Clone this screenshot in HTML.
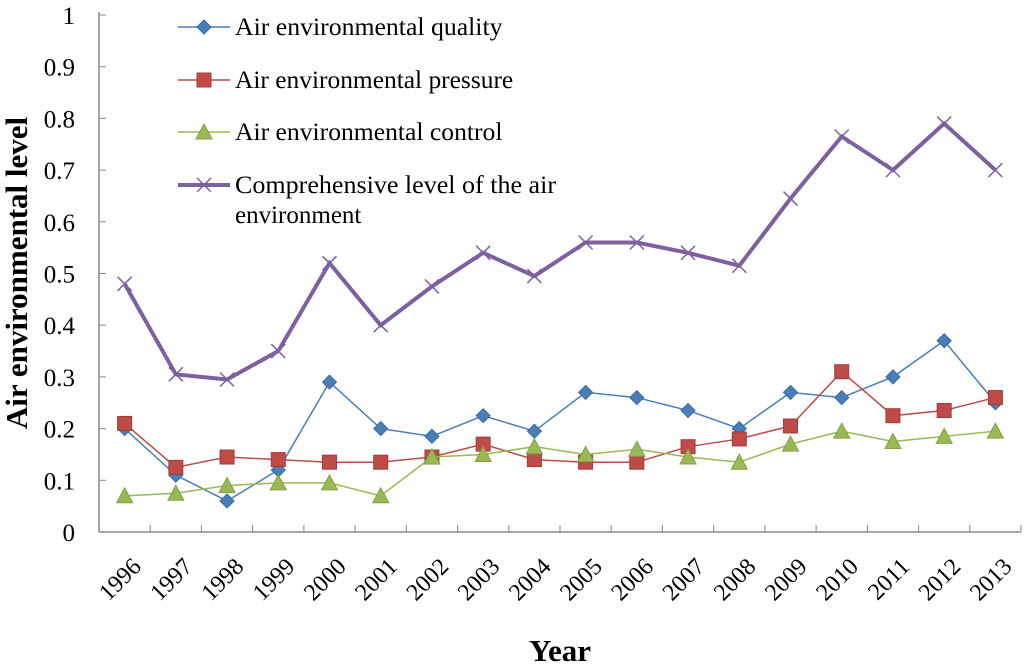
<!DOCTYPE html>
<html><head><meta charset="utf-8"><style>
body{margin:0;background:#fff}
svg{font-family:"Liberation Serif",serif}
</style></head><body>
<svg id="c" width="1024" height="667"></svg>
<script>
const years=["1996","1997","1998","1999","2000","2001","2002","2003","2004","2005","2006","2007","2008","2009","2010","2011","2012","2013"];
const quality=[0.20,0.11,0.06,0.12,0.29,0.20,0.185,0.225,0.195,0.27,0.26,0.235,0.20,0.27,0.26,0.30,0.37,0.25];
const pressure=[0.21,0.125,0.145,0.14,0.135,0.135,0.145,0.17,0.14,0.135,0.135,0.165,0.18,0.205,0.31,0.225,0.235,0.26];
const control=[0.07,0.075,0.09,0.095,0.095,0.07,0.145,0.15,0.165,0.15,0.16,0.145,0.135,0.17,0.195,0.175,0.185,0.195];
const comprehensive=[0.48,0.305,0.295,0.35,0.52,0.40,0.475,0.54,0.495,0.56,0.56,0.54,0.515,0.645,0.765,0.70,0.79,0.70];
const yTicks=["0","0.1","0.2","0.3","0.4","0.5","0.6","0.7","0.8","0.9","1"];
const NS="http://www.w3.org/2000/svg",svg=document.getElementById('c');
const X0=99,X1=1021,Y0=532,Y1=15;
const step=(X1-X0)/years.length;
const xs=i=>X0+step*(i+0.5);
const ys=v=>Y0-(Y0-Y1)*v;
function el(t,a,p){const e=document.createElementNS(NS,t);for(const k in a)e.setAttribute(k,a[k]);(p||svg).appendChild(e);return e;}
let ax=el('line',{x1:X0,y1:Y1-3,x2:X0,y2:Y0,stroke:'#888','stroke-width':1.5});


let bx=el('line',{x1:X0,y1:Y0,x2:X1,y2:Y0,stroke:'#888','stroke-width':1.5});


yTicks.forEach((t,i)=>{const v=+t;
 el('line',{x1:X0,y1:ys(v),x2:X0+7,y2:ys(v),stroke:'#888'});
 const tx=el('text',{x:75,y:ys(v)+9,'text-anchor':'end','font-size':25});tx.textContent=t;
 
 
});
years.forEach((y,i)=>{
 el('line',{x1:X0+step*(i+1),y1:Y0,x2:X0+step*(i+1),y2:Y0-7,stroke:'#888'});
 const x=xs(i)+6,yy=Y0+24;
 const tx=el('text',{x:x,y:yy,'text-anchor':'end','font-size':24,transform:`rotate(-45 ${x} ${yy})`,dy:'0.7em'});tx.textContent=y;
 
 
});
let yt=el('text',{x:27,y:273,'text-anchor':'middle','font-size':31,'font-weight':'bold',transform:'rotate(-90 27 273)'});yt.textContent='Air environmental level';


let xt=el('text',{x:560,y:661,'text-anchor':'middle','font-size':31,'font-weight':'bold'});xt.textContent='Year';


function marker(type,x,y,g){
 if(type==='d')el('polygon',{points:`${x},${y-7} ${x+7},${y} ${x},${y+7} ${x-7},${y}`,fill:'#4a7ebb',stroke:'#3a6aa5'},g);
 else if(type==='s')el('rect',{x:x-7,y:y-7,width:14,height:14,fill:'#be4b48',stroke:'#a03c3a'},g);
 else if(type==='t')el('polygon',{points:`${x},${y-8} ${x+8},${y+7} ${x-8},${y+7}`,fill:'#98b954',stroke:'#84a044'},g);
 else {el('path',{d:`M${x-7},${y-7}L${x+7},${y+7}M${x-7},${y+7}L${x+7},${y-7}`,stroke:'#7d60a0','stroke-width':1.5},g);}
}
const series=[[quality,'#4a7ebb',1.5,'d','series-quality'],[pressure,'#be4b48',1.5,'s','series-pressure'],[control,'#98b954',1.5,'t','series-control'],[comprehensive,'#7d60a0',4,'x','series-comprehensive']];
series.forEach(([d,c,w,m,n])=>{
 const g=el('g',{});
 
 
 el('polyline',{points:d.map((v,i)=>xs(i)+','+ys(v)).join(' '),fill:'none',stroke:c,'stroke-width':w},g);
 d.forEach((v,i)=>marker(m,xs(i),ys(v),g));
});
const legend=[['Air environmental quality',27],['Air environmental pressure',80],['Air environmental control',132],['Comprehensive level of the air',185]];
legend.forEach(([t,y],i)=>{
 const g=el('g',{});
 
 
 const s=series[i];
 el('line',{x1:178,y1:y,x2:230,y2:y,stroke:s[1],'stroke-width':s[2]},g);
 marker(s[3],204,y,g);
 const tx=el('text',{x:235,y:y+8,'font-size':25,textLength:t.length*10.7,lengthAdjust:'spacingAndGlyphs'},g);tx.textContent=t;
});
let t2=el('text',{x:235,y:223,'font-size':25});t2.textContent='environment';


</script>
</body></html>
